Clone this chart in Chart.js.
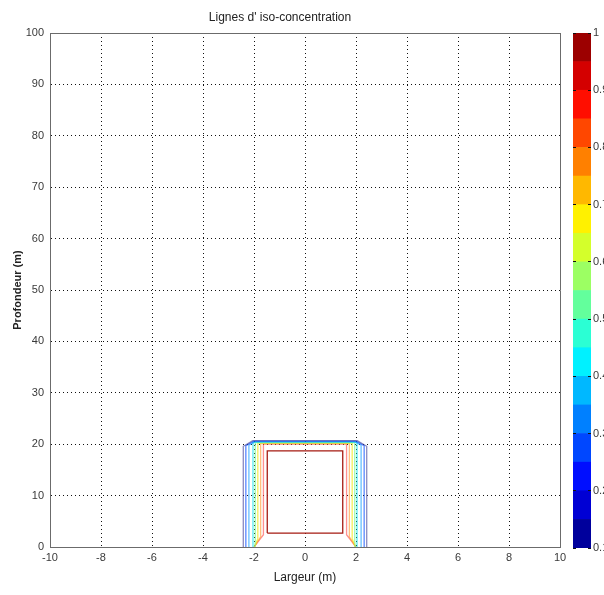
<!DOCTYPE html>
<html>
<head>
<meta charset="utf-8">
<title>Lignes d' iso-concentration</title>
<script src="https://cdn.jsdelivr.net/npm/chart.js@4.4.1/dist/chart.umd.min.js"></script>
<style>
  html, body { margin: 0; padding: 0; background: #fff; }
  #wrap { position: relative; width: 604px; height: 595px; overflow: hidden; }
  #plot { position: absolute; left: 0; top: 0; }
  #cbar { position: absolute; left: 560px; top: 0; }
</style>
</head>
<body>
<div id="wrap">
  <canvas id="plot" width="604" height="595"></canvas>
  <canvas id="cbar" width="44" height="595"></canvas>
</div>
<script>
// iso-concentration contours, x = largeur (m), y = profondeur (m)
const iso01X = [-2.42, -2.42, -2.05, 2.05, 2.42, 2.42];
const iso01Y = [0, 19.6, 20.7, 20.7, 19.6, 0];
const iso02X = [-2.32, -2.32, -2.0, 2.0, 2.32, 2.32];
const iso02Y = [0, 19.7, 20.6, 20.6, 19.7, 0];
const iso03X = [-2.2, -2.2, -1.95, 1.95, 2.2, 2.2];
const iso03Y = [0, 19.8, 20.5, 20.5, 19.8, 0];
const iso04X = [-2.04, -2.04, 2.04, 2.04];
const iso04Y = [0, 20.4, 20.4, 0];
const iso05X = [-1.97, -1.95, -1.95, 1.95, 1.95, 1.97];
const iso05Y = [0, 1.0, 20.3, 20.3, 1.0, 0];
const iso06X = [-1.98, -1.85, -1.85, 1.85, 1.85, 1.98];
const iso06Y = [0, 1.6, 20.2, 20.2, 1.6, 0];
const iso07X = [-1.99, -1.74, -1.74, 1.74, 1.74, 1.99];
const iso07Y = [0, 2.0, 20.1, 20.1, 2.0, 0];
const iso08X = [-2.0, -1.63, -1.63, 1.63, 1.63, 2.0];
const iso08Y = [0, 2.4, 20.0, 20.0, 2.4, 0];
const iso09X = [-1.48, -1.48, 1.48, 1.48, -1.48];
const iso09Y = [2.7, 18.7, 18.7, 2.7, 2.7];

const isoLevels = [0.1, 0.2, 0.3, 0.4, 0.5, 0.6, 0.7, 0.8, 0.9];
const isoColors = [
  'rgba(60,60,150,0.6)', 'rgba(0,70,255,0.65)', 'rgba(0,150,255,0.6)',
  'rgba(0,225,235,0.65)', 'rgba(120,250,140,0.7)', 'rgba(240,230,0,0.65)',
  'rgba(255,150,40,0.6)', 'rgba(255,70,70,0.6)', '#a51b12'
];

// colorbar bands (jet), from 0.1 to 1 in steps of 0.05
const bandEdges = [0.1, 0.15, 0.2, 0.25, 0.3, 0.35, 0.4, 0.45, 0.5, 0.55,
                   0.6, 0.65, 0.7, 0.75, 0.8, 0.85, 0.9, 0.95, 1.0];
const bandColors = [
  'rgb(0,0,156)', 'rgb(0,0,212)', 'rgb(0,14,255)', 'rgb(0,71,255)',
  'rgb(0,128,255)', 'rgb(0,184,255)', 'rgb(0,241,255)', 'rgb(43,255,212)',
  'rgb(99,255,156)', 'rgb(156,255,99)', 'rgb(212,255,43)', 'rgb(255,241,0)',
  'rgb(255,184,0)', 'rgb(255,128,0)', 'rgb(255,71,0)', 'rgb(255,14,0)',
  'rgb(212,0,0)', 'rgb(156,0,0)'
];

const xTicks = [-10, -8, -6, -4, -2, 0, 2, 4, 6, 8, 10];
const yTicks = [0, 10, 20, 30, 40, 50, 60, 70, 80, 90, 100];
const cbarTicks = [0.1, 0.2, 0.3, 0.4, 0.5, 0.6, 0.7, 0.8, 0.9, 1];

const isoX = [iso01X, iso02X, iso03X, iso04X, iso05X, iso06X, iso07X, iso08X, iso09X];
const isoY = [iso01Y, iso02Y, iso03Y, iso04Y, iso05Y, iso06Y, iso07Y, iso08Y, iso09Y];

const narrow = "'Liberation Sans Narrow', 'Arial Narrow', 'Liberation Sans', sans-serif";
const axisColor = '#6b6b6b';
const tickColor = '#3a3a3a';

const datasets = isoLevels.map((lvl, i) => ({
  label: String(lvl),
  data: isoX[i].map((x, j) => ({ x: x, y: isoY[i][j] })),
  showLine: true,
  borderColor: isoColors[i],
  borderWidth: 1.3,
  pointRadius: 0,
  tension: 0,
  fill: false
}));

new Chart(document.getElementById('plot'), {
  type: 'scatter',
  data: { datasets: datasets },
  options: {
    responsive: false,
    animation: false,
    layout: { padding: { left: 0, right: 44, top: 0, bottom: 0 } },
    plugins: {
      legend: { display: false },
      tooltip: { enabled: false },
      title: {
        display: true,
        text: "Lignes d' iso-concentration",
        color: '#222',
        font: { family: narrow, size: 12, weight: 'normal' },
        padding: { top: 10, bottom: 8.6 }
      }
    },
    scales: {
      x: {
        type: 'linear',
        min: -10,
        max: 10,
        afterFit: s => { s.height = 48; },
        afterBuildTicks: s => { s.ticks = xTicks.map(v => ({ value: v })); },
        ticks: { color: tickColor, font: { family: narrow, size: 11 }, padding: 4, maxRotation: 0 },
        grid: { color: '#111', drawTicks: false },
        border: { color: axisColor, dash: [1, 3] },
        title: {
          display: true,
          text: 'Largeur (m)',
          color: '#222',
          font: { family: narrow, size: 12 },
          padding: { top: 0, bottom: 10 }
        }
      },
      y: {
        type: 'linear',
        min: 0,
        max: 100,
        afterFit: s => { s.width = 50; },
        afterBuildTicks: s => { s.ticks = yTicks.map(v => ({ value: v })); },
        ticks: { color: tickColor, font: { family: narrow, size: 11 }, padding: 6 },
        grid: { color: '#111', drawTicks: false },
        border: { color: axisColor, dash: [1, 3] },
        title: {
          display: true,
          text: 'Profondeur (m)',
          color: '#222',
          font: { family: "'Liberation Sans', sans-serif", size: 11, weight: 'bold' },
          padding: { top: 11, bottom: 0 }
        }
      },
      xTop: {
        type: 'linear',
        position: 'top',
        min: -10,
        max: 10,
        afterFit: s => { s.height = 0; },
        ticks: { display: false },
        grid: { display: false },
        border: { display: true, color: axisColor }
      },
      yRight: {
        type: 'linear',
        position: 'right',
        min: 0,
        max: 100,
        afterFit: s => { s.width = 0; },
        ticks: { display: false },
        grid: { display: false },
        border: { display: true, color: axisColor }
      }
    }
  }
});

// colorbar: one floating bar per band, all in the same slot
const bandSets = bandColors.map((c, i) => ({
  data: [[bandEdges[i], bandEdges[i + 1]]],
  backgroundColor: c,
  borderWidth: 0,
  barPercentage: 1,
  categoryPercentage: 1
}));

new Chart(document.getElementById('cbar'), {
  type: 'bar',
  data: { labels: [''], datasets: bandSets },
  options: {
    responsive: false,
    animation: false,
    layout: { padding: { left: 13, right: 0, top: 33, bottom: 47 } },
    plugins: { legend: { display: false }, tooltip: { enabled: false } },
    scales: {
      x: { display: false, stacked: true },
      y: {
        position: 'right',
        min: 0.1,
        max: 1,
        stacked: false,
        afterFit: s => { s.width = 13; },
        afterBuildTicks: s => { s.ticks = cbarTicks.map(v => ({ value: v })); },
        ticks: {
          color: tickColor,
          font: { family: narrow, size: 11 },
          padding: 2,
          callback: v => String(Math.round(v * 10) / 10)
        },
        grid: { color: '#111', drawTicks: false, z: 1 },
        border: { display: false, dash: [3, 12] }
      }
    }
  }
});
</script>
</body>
</html>
